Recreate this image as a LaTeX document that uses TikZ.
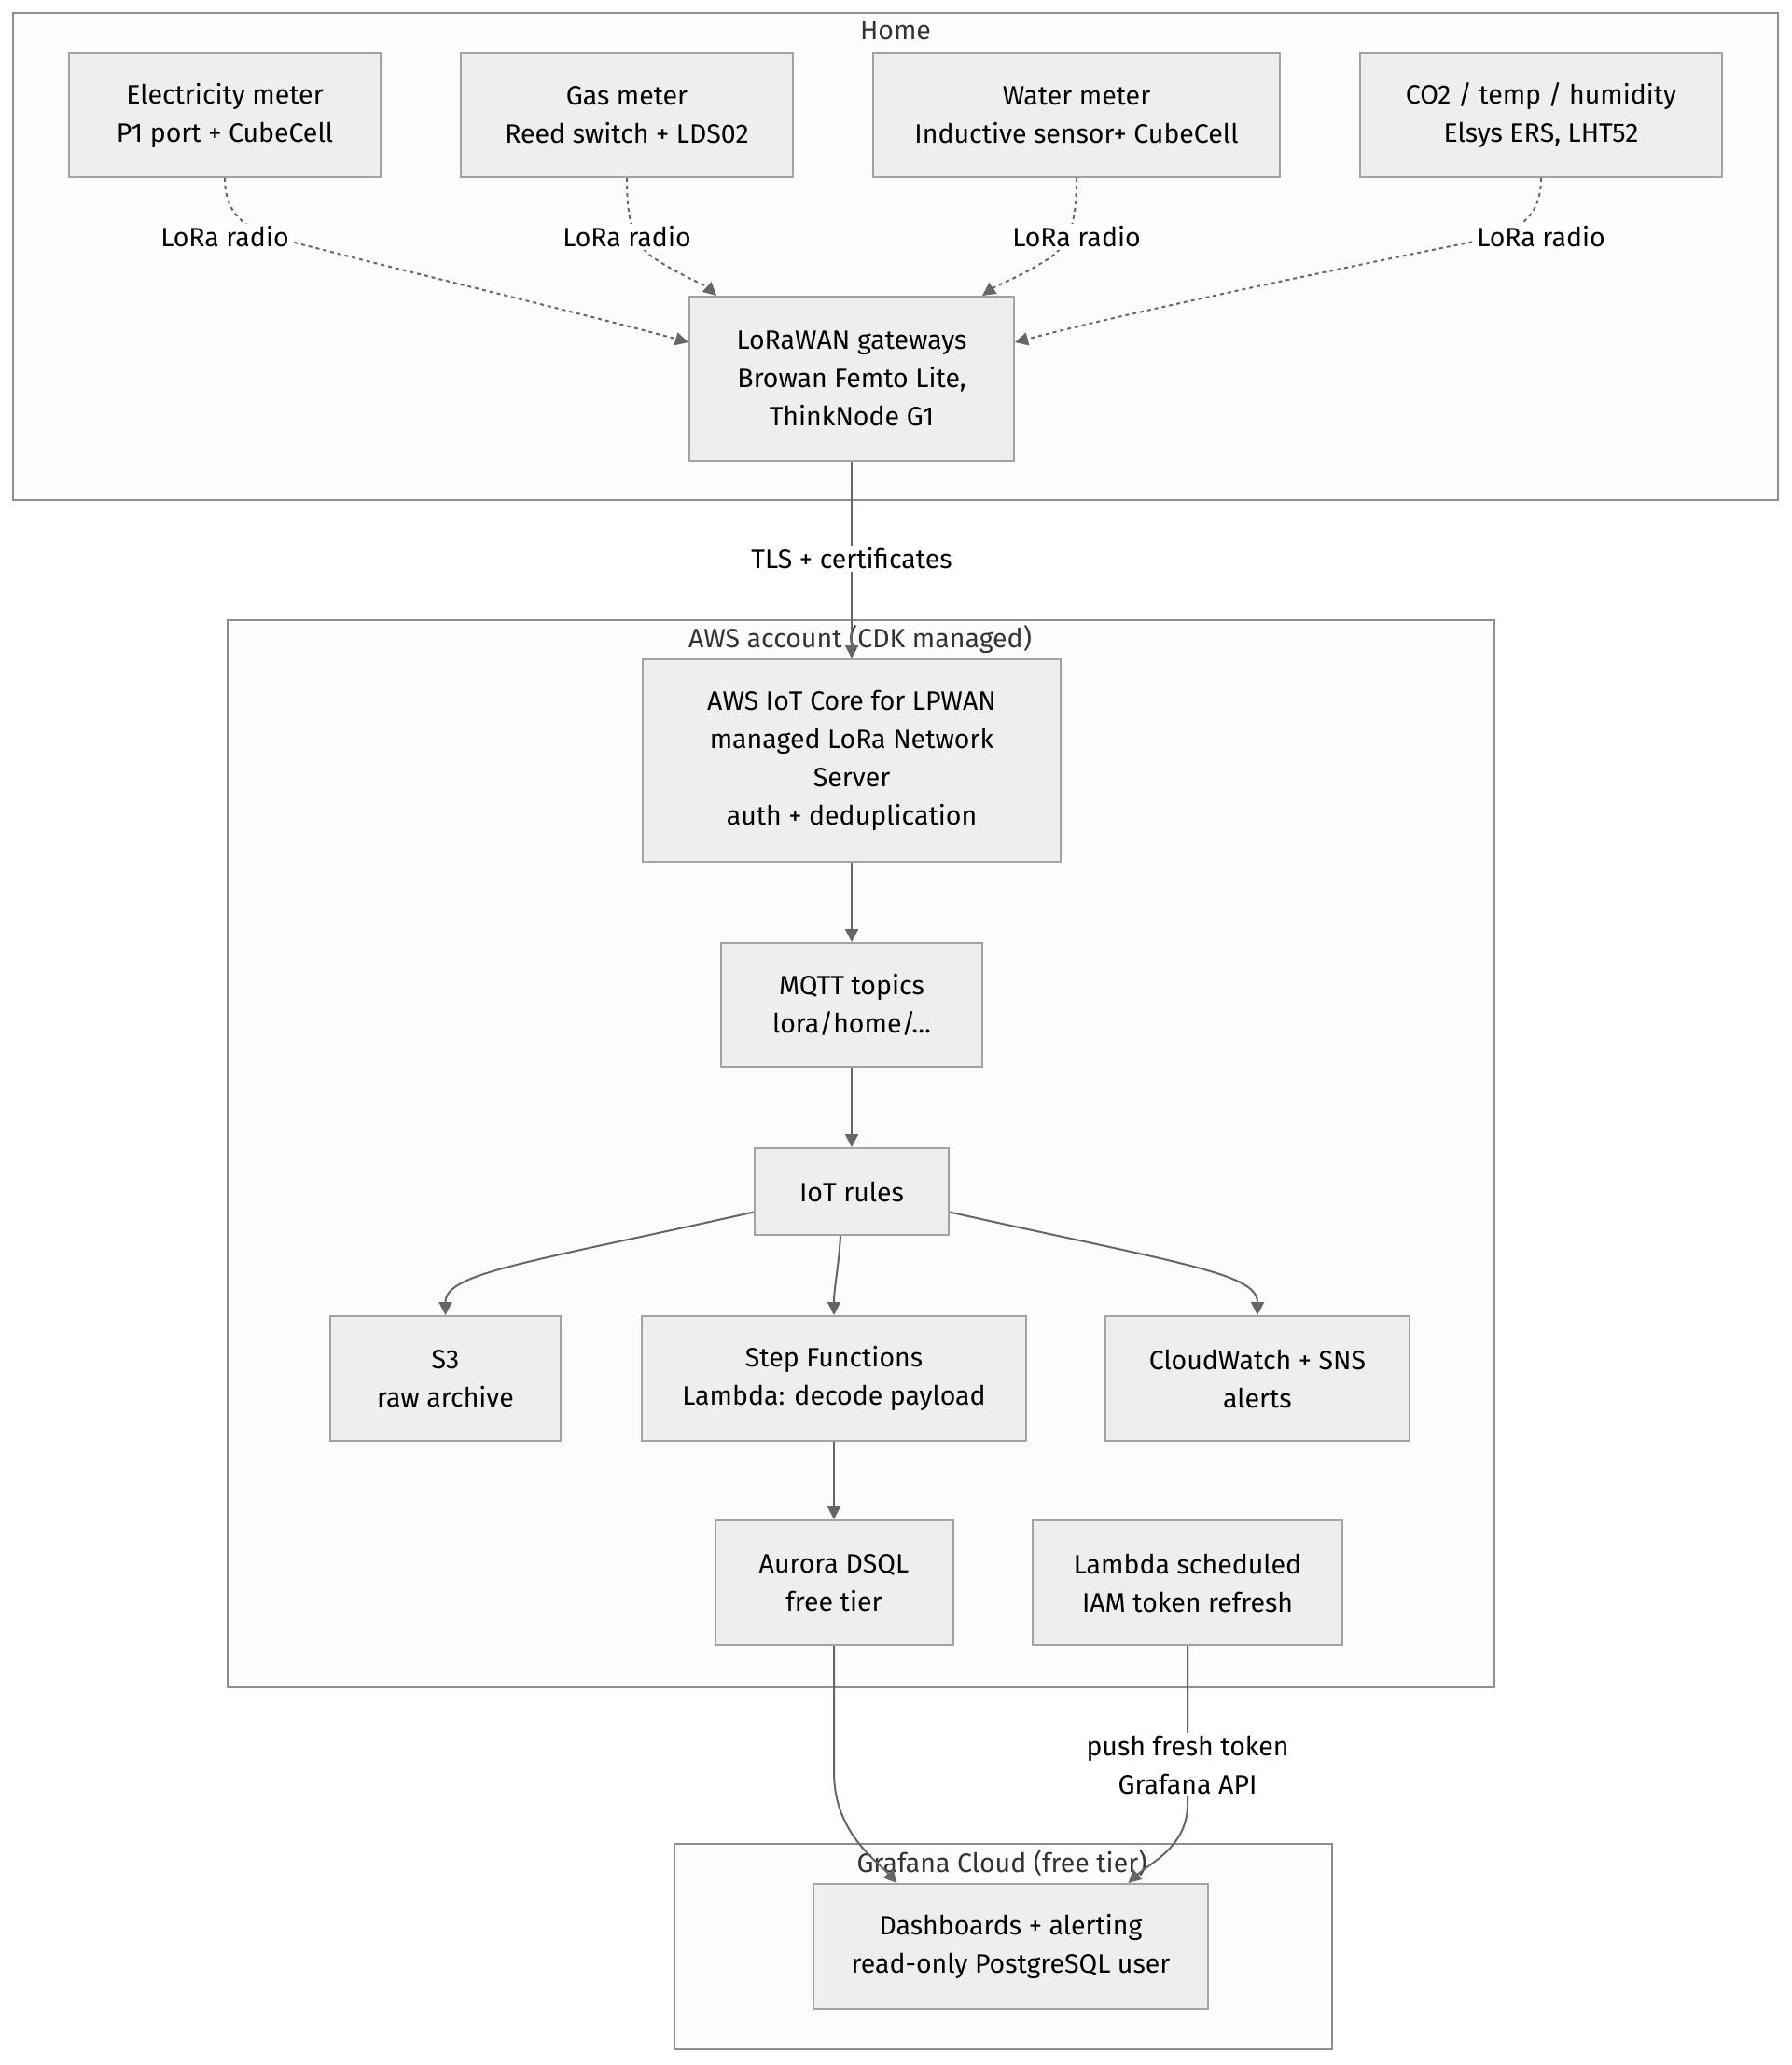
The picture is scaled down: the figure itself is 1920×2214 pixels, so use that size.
\documentclass[tikz,border=0pt]{standalone}
\usepackage{fontspec}
\setmainfont{Fira Sans}
\usetikzlibrary{arrows.meta}
\definecolor{nodefill}{HTML}{EEEEEE}
\definecolor{nodeline}{HTML}{A3A3A3}
\definecolor{clusterfill}{HTML}{FCFCFC}
\definecolor{clusterline}{HTML}{8E8E8E}
\definecolor{edgecol}{HTML}{666666}
\definecolor{labeltext}{HTML}{333333}
\begin{document}
\begin{tikzpicture}[x=1pt,y=-1pt,
  box/.style={draw=nodeline, fill=nodefill, line width=2pt, inner sep=0pt, align=center, font=\fontsize{28.5}{41}\selectfont, text=black},
  cluster/.style={draw=clusterline, fill=clusterfill, line width=2pt, inner sep=0pt},
  clabel/.style={font=\fontsize{28.5}{34}\selectfont, text=labeltext, inner sep=0pt},
  elabel/.style={fill=white, inner sep=3pt, align=center, font=\fontsize{28.5}{41}\selectfont, text=black},
  edge/.style={draw=edgecol, line width=2pt, -{Triangle[length=14pt,width=14pt]}},
  dotedge/.style={edge, dash pattern=on 4pt off 4pt},
]
\fill[white] (0,0) rectangle (1920,2214);
\useasboundingbox (0,0) rectangle (1920,2214);

% clusters
\node[cluster, minimum width=1892pt, minimum height=522pt] (home) at (960,275) {};
\node[cluster, minimum width=1358pt, minimum height=1144pt] (aws) at (923,1237) {};
\node[cluster, minimum width=705pt, minimum height=220pt] (graf) at (1075.5,2087) {};
\node[clabel] (homelab) at (960,33) {Home};
\node[clabel] (awslab) at (922,685) {AWS account (CDK managed)};
\node[clabel] (graflab) at (1074,1997) {Grafana Cloud (free tier)};

% nodes
\node[box, minimum width=334pt, minimum height=133pt] (e1) at (241,123.5) {Electricity meter\\P1 port + CubeCell};
\node[box, minimum width=356pt, minimum height=133pt] (e2) at (672,123.5) {Gas meter\\Reed switch + LDS02};
\node[box, minimum width=436pt, minimum height=133pt] (e3) at (1154,123.5) {Water meter\\Inductive sensor+ CubeCell};
\node[box, minimum width=388pt, minimum height=133pt] (e4) at (1652,123.5) {CO2 / temp / humidity\\Elsys ERS, LHT52};
\node[box, minimum width=348pt, minimum height=176pt] (gw) at (913,406) {LoRaWAN gateways\\Browan Femto Lite,\\ThinkNode G1};
\node[box, minimum width=448pt, minimum height=217pt] (core) at (913,815.5) {AWS IoT Core for LPWAN\\managed LoRa Network\\Server\\auth + deduplication};
\node[box, minimum width=280pt, minimum height=133pt] (mqtt) at (913,1077.5) {MQTT topics\\lora/home/...};
\node[box, minimum width=208pt, minimum height=93pt] (rules) at (913,1277.5) {IoT rules};
\node[box, minimum width=247pt, minimum height=134pt] (s3) at (477.5,1478) {S3\\raw archive};
\node[box, minimum width=412pt, minimum height=134pt] (step) at (894,1478) {Step Functions\\Lambda: decode payload};
\node[box, minimum width=326pt, minimum height=134pt] (cw) at (1348,1478) {CloudWatch + SNS\\alerts};
\node[box, minimum width=255pt, minimum height=134pt] (aurora) at (894,1697) {Aurora DSQL\\free tier};
\node[box, minimum width=332pt, minimum height=134pt] (lam) at (1273,1697) {Lambda scheduled\\IAM token refresh};
\node[box, minimum width=423pt, minimum height=134pt] (dash) at (1083.5,2087) {Dashboards + alerting\\read-only PostgreSQL user};

% edges
\draw[dotedge] (e1.south) .. controls (241,235) and (270,248) .. (304,257) .. controls (450,295) and (640,340) .. ([yshift=39pt]gw.west);
\draw[dotedge] (e2.south) .. controls (672,240) and (680,262) .. (700,276) .. controls (730,296) and (755,305) .. ([xshift=-145pt]gw.north);
\draw[dotedge] (e3.south) .. controls (1154,240) and (1146,262) .. (1126,276) .. controls (1096,296) and (1070,305) .. ([xshift=140pt]gw.north);
\draw[dotedge] (e4.south) .. controls (1652,235) and (1625,248) .. (1590,257) .. controls (1400,295) and (1190,340) .. ([yshift=39pt]gw.east);
\draw[edge] (gw.south) -- (core.north);
\draw[edge] (core.south) -- (mqtt.north);
\draw[edge] (mqtt.south) -- (rules.north);
\draw[edge] ([yshift=-22pt]rules.west) .. controls (560,1355) and (477.5,1365) .. (s3.north);
\draw[edge] ([xshift=-12pt]rules.south) .. controls (899,1360) and (894,1380) .. (step.north);
\draw[edge] ([yshift=-22pt]rules.east) .. controls (1266,1355) and (1348,1365) .. (cw.north);
\draw[edge] (step.south) -- (aurora.north);
\draw[edge] (aurora.south) -- (894,1900) .. controls (894,1965) and (940,1995) .. ([xshift=-122pt]dash.north);
\draw[edge] (lam.south) -- (1273,1935) .. controls (1273,1980) and (1232,1998) .. ([xshift=126pt]dash.north);

% edge labels
\node[elabel] (l1) at (241,254) {LoRa radio};
\node[elabel] (l2) at (672,254) {LoRa radio};
\node[elabel] (l3) at (1154,254) {LoRa radio};
\node[elabel] (l4) at (1652,254) {LoRa radio};
\node[elabel] (t1) at (913,599) {TLS + certificates};
\node[elabel] (t2) at (1273,1892) {push fresh token\\Grafana API};
\end{tikzpicture}
\end{document}
